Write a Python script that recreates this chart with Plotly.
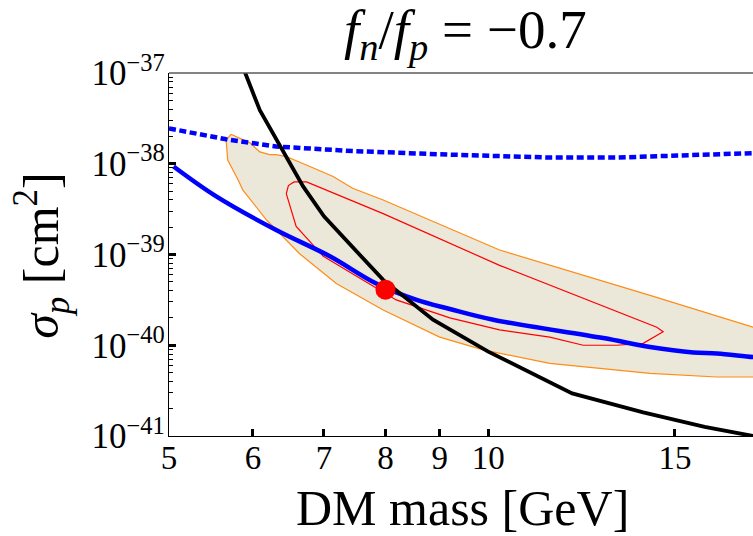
import math
import plotly.graph_objects as go

# ---------------- data ----------------
# black solid limit curve
black_x = [5.85, 5.90, 6.09, 6.24, 6.36, 6.55, 6.69, 7.00, 7.96, 8.87, 10.0, 12.0, 14.0, 16.0, 17.28, 17.77, 18.5]
black_y = [1.26e-37, 1.0e-37, 3.89e-38, 2.34e-38, 1.55e-38, 8.51e-39, 5.62e-39, 2.63e-39, 5.25e-40,
           1.91e-40, 8.51e-41, 2.95e-41, 1.82e-41, 1.26e-41, 1.07e-41, 1.0e-41, 8.9e-42]

# blue solid limit curve
blue_x = [5.05, 5.54, 6.31, 7.09, 7.84, 8.56, 9.20, 10.11, 12.84, 14.21, 15.61, 16.43, 17.77, 18.5]
blue_y = [9.33e-39, 4.37e-39, 1.86e-39, 9.55e-40, 4.79e-40, 3.16e-40, 2.51e-40, 1.91e-40, 1.20e-40,
          9.55e-41, 8.32e-41, 8.13e-41, 7.41e-41, 7.2e-41]

# blue dotted limit curve
dot_x = [5.0, 5.66, 6.31, 7.45, 9.20, 11.43, 13.21, 15.27, 17.77, 18.5]
dot_y = [2.45e-38, 1.86e-38, 1.55e-38, 1.38e-38, 1.26e-38, 1.17e-38, 1.17e-38, 1.23e-38, 1.30e-38, 1.33e-38]

# outer (orange) allowed region
outer_x = [5.72, 5.83, 5.96, 6.09, 6.22, 6.31, 6.45, 6.79, 7.14, 7.45, 7.96, 10.25, 14.21, 17.77, 19.0,
           19.0, 17.77, 16.43, 14.21, 11.43, 9.89, 9.00, 7.96, 7.19, 6.64, 6.18, 5.87, 5.81, 5.68, 5.66, 5.72]
outer_y = [2.11e-38, 1.91e-38, 1.70e-38, 1.35e-38, 1.26e-38, 1.26e-38, 1.20e-38, 9.33e-39, 7.24e-39,
           5.37e-39, 3.98e-39, 1.12e-39, 3.55e-40, 1.58e-40, 1.26e-40,
           4.37e-41, 4.47e-41, 4.47e-41, 4.90e-41, 6.31e-41, 8.91e-41, 1.23e-40, 2.45e-40, 4.79e-40,
           1.02e-39, 2.40e-39, 5.13e-39, 6.61e-39, 1.10e-38, 1.82e-38, 2.11e-38]

# inner (red) region
inner_x = [6.45, 6.48, 6.56, 6.74, 7.96, 10.25, 14.42, 14.62, 14.0, 13.21, 12.29, 11.43, 10.25, 9.20, 8.19,
           6.99, 6.59, 6.45]
inner_y = [4.68e-39, 5.75e-39, 6.31e-39, 6.31e-39, 2.82e-39, 7.59e-40, 1.58e-40, 1.41e-40, 1.05e-40, 1.0e-40,
           1.0e-40, 1.23e-40, 1.48e-40, 2.0e-40, 3.16e-40, 9.55e-40, 2.04e-39, 4.68e-39]

# best-fit point
best_x = [8.0]
best_y = [4.1e-40]

x_ticks = [5, 6, 7, 8, 9, 10, 15]
x_ticktext = ["5", "6", "7", "8", "9", "10", "15"]
y_ticks = [1e-41, 1e-40, 1e-39, 1e-38, 1e-37]
y_ticktext = ["10<sup>\u221241</sup>", "10<sup>\u221240</sup>", "10<sup>\u221239</sup>",
              "10<sup>\u221238</sup>", "10<sup>\u221237</sup>"]

FONT = "Liberation Serif"

fig = go.Figure()
fig.add_trace(go.Scatter(x=outer_x, y=outer_y, mode="lines", fill="toself",
                         fillcolor="rgb(235,231,217)", line=dict(color="rgb(255,140,20)", width=1.2),
                         hoverinfo="skip", showlegend=False))
fig.add_trace(go.Scatter(x=inner_x, y=inner_y, mode="lines",
                         line=dict(color="rgb(255,0,0)", width=1.2), hoverinfo="skip", showlegend=False))
fig.add_trace(go.Scatter(x=dot_x, y=dot_y, mode="lines",
                         line=dict(color="rgb(0,0,255)", width=4.5, dash="7px,3.5px"), showlegend=False))
fig.add_trace(go.Scatter(x=blue_x, y=blue_y, mode="lines", line_shape="spline",
                         line=dict(color="rgb(0,0,255)", width=4.5), showlegend=False))
fig.add_trace(go.Scatter(x=black_x, y=black_y, mode="lines",
                         line=dict(color="black", width=3.8), showlegend=False))
fig.add_trace(go.Scatter(x=best_x, y=best_y, mode="markers",
                         marker=dict(color="rgb(255,0,0)", size=20), showlegend=False))

fig.update_layout(
    width=753, height=536,
    margin=dict(l=169, r=0, t=73, b=100),
    paper_bgcolor="white", plot_bgcolor="white",
    font=dict(family=FONT, color="black", size=32),
    xaxis=dict(type="log", range=[math.log10(5), math.log10(17.77)],
               tickvals=x_ticks, ticktext=x_ticktext, automargin=False, ticklabelstandoff=-8,
               ticks="inside", ticklen=7, tickwidth=3, tickcolor="black",
               showline=True, linecolor="black", linewidth=1.3,
               showgrid=False, zeroline=False,
               tickfont=dict(family=FONT, size=33)),
    yaxis=dict(type="log", range=[-41, -37], tickvals=y_ticks, ticktext=y_ticktext,
               automargin=False, ticklabelstandoff=-4,
               ticks="inside", ticklen=7, tickwidth=3, tickcolor="black",
               minor=dict(ticks="inside", ticklen=3.5, tickwidth=1, tickcolor="black", dtick="D1"),
               showline=True, linecolor="black", linewidth=1.3,
               showgrid=False, zeroline=False,
               tickfont=dict(family=FONT, size=35)),
    shapes=[dict(type="line", xref="paper", yref="paper", x0=0, x1=1, y0=1, y1=1,
                 line=dict(color="rgb(90,90,90)", width=1.3))],
    annotations=[
        dict(text="<i>f</i><sub><i>n</i></sub>/<i>f</i><sub><i>p</i></sub> = \u22120.7",
             xref="paper", yref="paper", x=0.507, y=1.110, xanchor="center", yanchor="middle",
             showarrow=False, font=dict(family=FONT, size=55)),
        dict(text="DM mass [GeV]", xref="paper", yref="paper", x=0.502, y=-0.198,
             xanchor="center", yanchor="middle", showarrow=False, font=dict(family=FONT, size=50)),
        dict(text="<i>\u03c3</i><sub><i>p</i></sub> [cm<sup>2</sup>]", xref="paper", yref="paper",
             x=-0.2175, y=0.499, xanchor="center", yanchor="middle", textangle=-90,
             showarrow=False, font=dict(family=FONT, size=50)),
    ],
)

fig.write_html("out.html", config={"displayModeBar": False},
               post_script="document.body.style.margin='0';document.body.style.overflow='hidden';")
